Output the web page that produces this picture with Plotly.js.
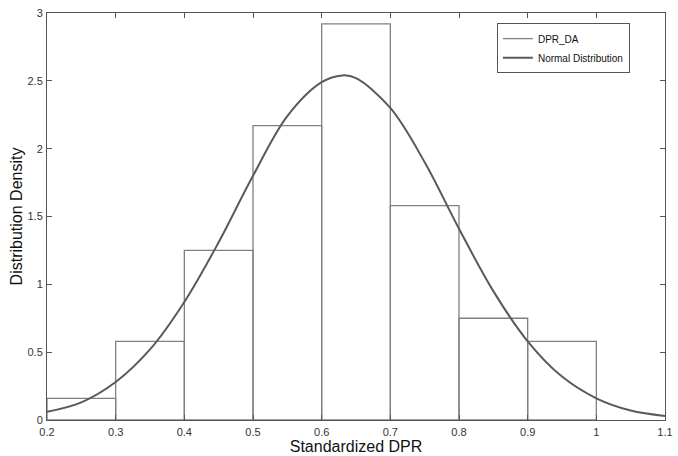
<!DOCTYPE html>
<html>
<head>
<meta charset="utf-8">
<script src="https://cdn.plot.ly/plotly-3.0.1.min.js"></script>
<style>html,body{margin:0;padding:0;background:#fff;}#chart{width:678px;height:456px;}</style>
</head>
<body>
<div id="chart"></div>
<script>
// Histogram bins (centers) and densities
var binCenters = [0.25, 0.35, 0.45, 0.55, 0.65, 0.75, 0.85, 0.95];
var binDensity = [0.16, 0.58, 1.25, 2.17, 2.92, 1.58, 0.75, 0.58];
var binWidth = 0.1;

// Normal distribution curve
var curveX = [0.2, 0.25, 0.3, 0.35, 0.4, 0.45, 0.5, 0.55, 0.6, 0.63, 0.65, 0.7, 0.75, 0.8, 0.85, 0.9, 0.95, 1.0, 1.05, 1.1];
var curveY = [0.06, 0.13, 0.28, 0.52, 0.87, 1.31, 1.80, 2.24, 2.49, 2.54, 2.52, 2.30, 1.90, 1.41, 0.95, 0.58, 0.32, 0.16, 0.07, 0.03];

var xTicks = [0.2, 0.3, 0.4, 0.5, 0.6, 0.7, 0.8, 0.9, 1.0, 1.1];
var xTickText = ['0.2', '0.3', '0.4', '0.5', '0.6', '0.7', '0.8', '0.9', '1', '1.1'];
var yTicks = [0, 0.5, 1, 1.5, 2, 2.5, 3];
var yTickText = ['0', '0.5', '1', '1.5', '2', '2.5', '3'];

var histColor = '#808080';
var curveColor = '#5a5a5a';

var traces = [
  {
    type: 'bar', x: binCenters, y: binDensity, width: binWidth,
    marker: {color: 'rgba(255,255,255,0)', line: {color: histColor, width: 1.3}},
    showlegend: false, hoverinfo: 'x+y'
  },
  {
    type: 'scatter', mode: 'lines', x: [null], y: [null], name: 'DPR_DA',
    line: {color: histColor, width: 1.2}
  },
  {
    type: 'scatter', mode: 'lines', x: curveX, y: curveY, name: 'Normal Distribution',
    line: {color: curveColor, width: 2, shape: 'spline', smoothing: 1}
  }
];

var axisCommon = {
  showgrid: false, zeroline: false, showline: true, mirror: 'ticks',
  linecolor: '#555', linewidth: 1, ticks: 'inside', ticklen: 5, tickcolor: '#555',
  tickfont: {family: 'Liberation Sans, Arial, sans-serif', size: 11, color: '#333'}
};

var layout = {
  width: 678, height: 456,
  margin: {l: 47, r: 13, t: 13, b: 36},
  paper_bgcolor: '#fff', plot_bgcolor: '#fff',
  bargap: 0,
  xaxis: Object.assign({}, axisCommon, {
    range: [0.2, 1.1], tickvals: xTicks, ticktext: xTickText, ticklabelstandoff: 2,
    title: {text: 'Standardized DPR', font: {family: 'Liberation Sans, Arial, sans-serif', size: 16, color: '#111'}, standoff: 0}
  }),
  yaxis: Object.assign({}, axisCommon, {
    range: [0, 3], tickvals: yTicks, ticktext: yTickText, ticklabelstandoff: 1,
    title: {text: 'Distribution Density', font: {family: 'Liberation Sans, Arial, sans-serif', size: 16, color: '#111'}, standoff: 0}
  }),
  legend: {
    x: 0.728, y: 0.975, xanchor: 'left', yanchor: 'top',
    bgcolor: '#fff', bordercolor: '#555', borderwidth: 1,
    font: {family: 'Liberation Sans, Arial, sans-serif', size: 10, color: '#111'},
    itemwidth: 30, tracegroupgap: 0
  },
  showlegend: true
};

Plotly.newPlot('chart', traces, layout, {displayModeBar: false, staticPlot: true});
</script>
</body>
</html>
